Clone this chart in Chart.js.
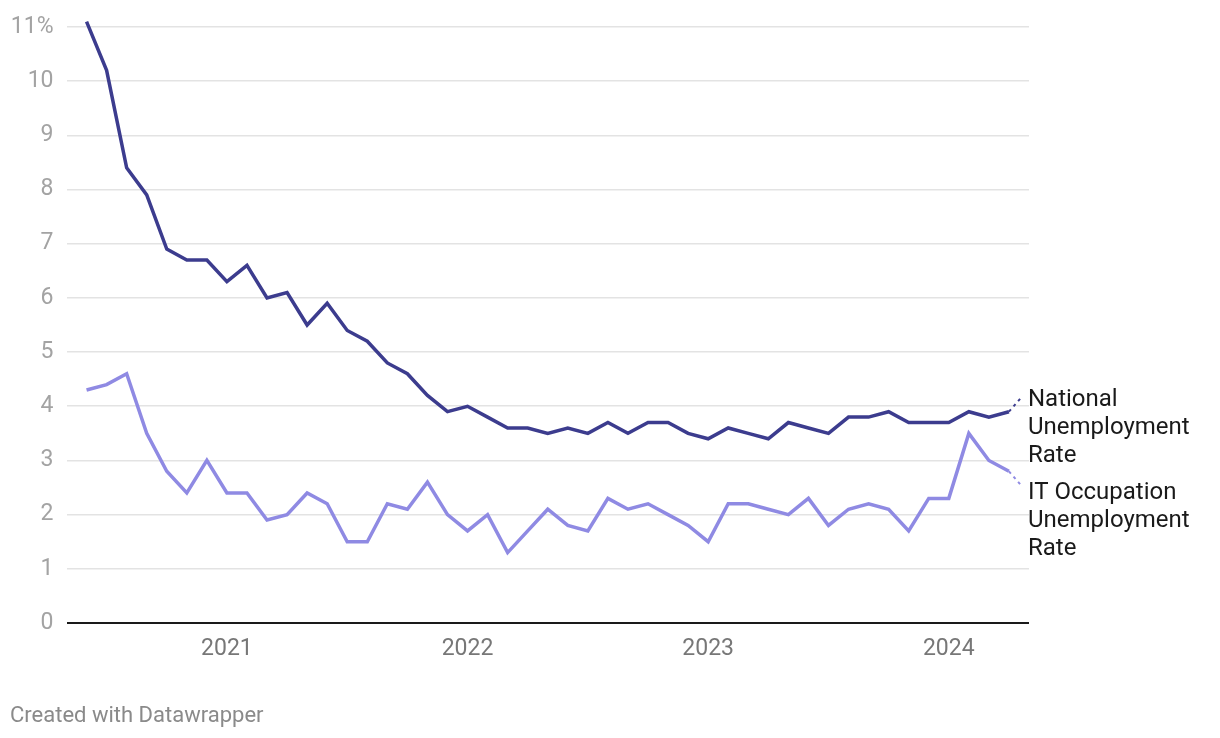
<!DOCTYPE html>
<html>
<head>
<meta charset="utf-8">
<script src="https://cdn.jsdelivr.net/npm/chart.js@4"></script>
<style>
  html, body { margin: 0; padding: 0; background: #fff; }
  #wrap { position: relative; width: 1220px; height: 738px; }
  #footer { position: absolute; left: 10px; top: 702px; font-family: Roboto, sans-serif; font-size: 22px; color: #8a8a8a; }
</style>
</head>
<body>
<div id="wrap">
  <canvas id="c" width="1220" height="738"></canvas>
  <div id="footer">Created with Datawrapper</div>
</div>
<script>
// Months (YYYY-MM), June 2020 – April 2024
const months = [
  '2020-06','2020-07','2020-08','2020-09','2020-10','2020-11','2020-12',
  '2021-01','2021-02','2021-03','2021-04','2021-05','2021-06','2021-07','2021-08','2021-09','2021-10','2021-11','2021-12',
  '2022-01','2022-02','2022-03','2022-04','2022-05','2022-06','2022-07','2022-08','2022-09','2022-10','2022-11','2022-12',
  '2023-01','2023-02','2023-03','2023-04','2023-05','2023-06','2023-07','2023-08','2023-09','2023-10','2023-11','2023-12',
  '2024-01','2024-02','2024-03','2024-04'
];
const nationalRate = [
  11.1,10.2,8.4,7.9,6.9,6.7,6.7,
  6.3,6.6,6.0,6.1,5.5,5.9,5.4,5.2,4.8,4.6,4.2,3.9,
  4.0,3.8,3.6,3.6,3.5,3.6,3.5,3.7,3.5,3.7,3.7,3.5,
  3.4,3.6,3.5,3.4,3.7,3.6,3.5,3.8,3.8,3.9,3.7,3.7,
  3.7,3.9,3.8,3.9
];
const itRate = [
  4.3,4.4,4.6,3.5,2.8,2.4,3.0,
  2.4,2.4,1.9,2.0,2.4,2.2,1.5,1.5,2.2,2.1,2.6,2.0,
  1.7,2.0,1.3,1.7,2.1,1.8,1.7,2.3,2.1,2.2,2.0,1.8,
  1.5,2.2,2.2,2.1,2.0,2.3,1.8,2.1,2.2,2.1,1.7,2.3,
  2.3,3.5,3.0,2.8
];
const yearTicks = ['2021','2022','2023','2024'];
const seriesLabels = [
  ['National', 'Unemployment', 'Rate'],
  ['IT Occupation', 'Unemployment', 'Rate']
];
const yTicks = [0,1,2,3,4,5,6,7,8,9,10,11];

// month index counted from January 2020
function monthIndex(s) {
  const [y, m] = s.split('-').map(Number);
  return (y - 2020) * 12 + (m - 1);
}
const yearIndex = yearTicks.map(y => (Number(y) - 2020) * 12);

const nationalColor = '#3c3c8e';
const itColor = '#8f8ae3';

const endLabels = {
  id: 'endLabels',
  afterDatasetsDraw(chart) {
    const ctx = chart.ctx;
    const area = chart.chartArea;
    const offsets = [-15, 15];
    const textShift = [3, 7];
    chart.data.datasets.forEach((ds, i) => {
      const meta = chart.getDatasetMeta(i);
      const last = meta.data[meta.data.length - 1];
      const ex = last.x + 13, ey = last.y + offsets[i];
      ctx.save();
      ctx.strokeStyle = ds.borderColor;
      ctx.lineWidth = 2;
      ctx.setLineDash([3, 4]);
      ctx.beginPath();
      ctx.moveTo(last.x, last.y);
      ctx.lineTo(ex, ey);
      ctx.stroke();
      ctx.setLineDash([]);
      ctx.fillStyle = '#1a1a1a';
      ctx.font = '24px Roboto, sans-serif';
      ctx.textBaseline = 'middle';
      ctx.textAlign = 'left';
      seriesLabels[i].forEach((line, k) => {
        ctx.fillText(line, area.right - 1, ey + textShift[i] + k * 28);
      });
      ctx.restore();
    });
  }
};

new Chart(document.getElementById('c'), {
  type: 'line',
  data: {
    datasets: [
      {
        label: 'National Unemployment Rate',
        data: months.map((m, i) => ({ x: monthIndex(m), y: nationalRate[i] })),
        borderColor: nationalColor,
        borderWidth: 3.5,
        pointRadius: 0,
        tension: 0,
        clip: false,
        borderJoinStyle: 'miter'
      },
      {
        label: 'IT Occupation Unemployment Rate',
        data: months.map((m, i) => ({ x: monthIndex(m), y: itRate[i] })),
        borderColor: itColor,
        borderWidth: 3.5,
        pointRadius: 0,
        tension: 0,
        clip: false,
        borderJoinStyle: 'miter'
      }
    ]
  },
  options: {
    responsive: false,
    animation: false,
    layout: { padding: { left: 0, right: 191, top: 27, bottom: 65 } },
    plugins: { legend: { display: false }, tooltip: { enabled: false } },
    scales: {
      x: {
        type: 'linear',
        min: 4,
        max: 52,
        afterFit(s) { s.height = 50; },
        afterBuildTicks(s) { s.ticks = yearIndex.map(v => ({ value: v })); },
        ticks: {
          autoSkip: false,
          maxRotation: 0,
          padding: 12,
          color: '#777777',
          font: { family: 'Roboto', size: 23 },
          callback: (v) => yearTicks[yearIndex.indexOf(v)]
        },
        grid: { display: false, drawTicks: false },
        border: { display: false }
      },
      y: {
        min: 0,
        max: 11,
        afterFit(s) { s.width = 66.5; },
        afterBuildTicks(s) { s.ticks = yTicks.map(v => ({ value: v })); },
        ticks: {
          padding: 13,
          color: '#a3a3a3',
          font: { family: 'Roboto', size: 23 },
          callback: (v) => v === 11 ? v + '%' : String(v)
        },
        grid: {
          drawTicks: false,
          color: (c) => c.tick && c.tick.value === 0 ? '#1a1a1a' : '#e3e3e3',
          lineWidth: (c) => c.tick && c.tick.value === 0 ? 2 : 1.6
        },
        border: { display: false }
      }
    }
  },
  plugins: [endLabels]
});
</script>
</body>
</html>
